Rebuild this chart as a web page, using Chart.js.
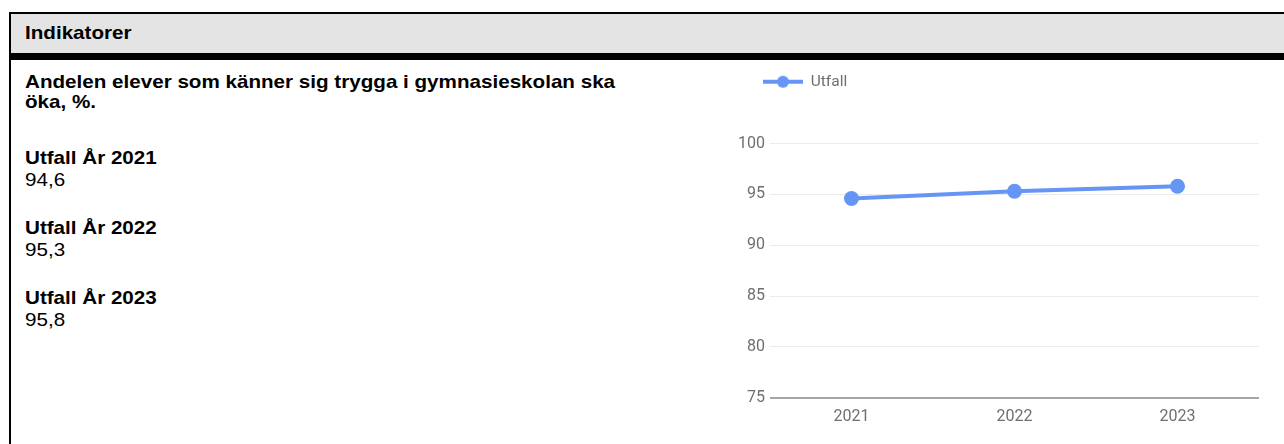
<!DOCTYPE html>
<html>
<head>
<meta charset="utf-8">
<script src="https://cdn.jsdelivr.net/npm/chart.js@4"></script>
<style>
    body { margin: 0; background: #fff; width: 1284px; height: 444px; overflow: hidden; position: relative; font-family: "Liberation Sans", Arial, sans-serif; color: #000; }
    #frame { position: absolute; left: 9px; top: 12px; width: 1290px; height: 440px; border-left: 2px solid #000; border-top: 2px solid #000; }
    #header { position: absolute; left: 0; top: 0; right: 0; height: 39px; background: #e4e4e4; border-bottom: 7px solid #000; }
    .txt { position: absolute; left: 25px; font-size: 19px; transform: scaleX(1.085); transform-origin: left top; white-space: nowrap; }
    .b { font-weight: bold; }
    #chartBox { position: absolute; left: 700px; top: 60px; width: 584px; height: 384px; }
</style>
</head>
<body>
<div id="frame"><div id="header"></div></div>
<div class="txt b" style="top:22px; line-height:22px;">Indikatorer</div>
<div class="txt b" style="top:72px; line-height:20px;">Andelen elever som känner sig trygga i gymnasieskolan ska<br>öka, %.</div>
<div id="values"></div>
<div id="chartBox"><canvas id="chart"></canvas></div>
<script>
const years = ["2021", "2022", "2023"];
const utfall = [94.6, 95.3, 95.8];
const utfallText = ["94,6", "95,3", "95,8"];
const yMin = 75;
const yMax = 100;
const yStep = 5;
const seriesName = "Utfall";
const blue = "#6596f5";
const grey = "#6f6f6f";

// left column: one block per year
const valuesDiv = document.getElementById("values");
years.forEach((year, i) => {
    const top = 147 + i * 70;
    valuesDiv.innerHTML +=
        `<div class="txt" style="top:${top}px; line-height:22px;"><span class="b">${seriesName} År ${year}</span><br>${utfallText[i]}</div>`;
});

// legend marker: line with a dot
const marker = document.createElement("canvas");
marker.width = 40;
marker.height = 16;
const mctx = marker.getContext("2d");
mctx.strokeStyle = blue;
mctx.lineWidth = 4;
mctx.beginPath();
mctx.moveTo(0, 8);
mctx.lineTo(40, 8);
mctx.stroke();
mctx.fillStyle = blue;
mctx.beginPath();
mctx.arc(20, 8, 6, 0, Math.PI * 2);
mctx.fill();

// more room under the legend, and legend moved over the axis
const legendGap = {
    id: "legendGap",
    beforeInit(chart) {
        const origFit = chart.legend.fit;
        chart.legend.fit = function () {
            origFit.bind(chart.legend)();
            this.height += 44;
        };
    },
    afterLayout(chart) {
        chart.legend.left += 53;
    },
};

Chart.defaults.font.family = "Roboto";
Chart.defaults.color = grey;

new Chart(document.getElementById("chart"), {
    type: "line",
    data: {
        labels: years,
        datasets: [
            {
                label: seriesName,
                data: utfall,
                borderColor: blue,
                backgroundColor: blue,
                borderWidth: 4,
                pointRadius: 7.5,
                pointBorderWidth: 0,
                pointBackgroundColor: blue,
                pointStyle: "circle",
                tension: 0,
            },
        ],
    },
    options: {
        responsive: true,
        maintainAspectRatio: false,
        animation: false,
        layout: { padding: { left: 0, right: 25, top: 4, bottom: 7 } },
        plugins: {
            legend: {
                align: "start",
                labels: {
                    usePointStyle: true,
                    pointStyleWidth: 40,
                    font: { size: 15.5 },
                    color: grey,
                    generateLabels(chart) {
                        return [{
                            text: seriesName,
                            pointStyle: marker,
                            fillStyle: blue,
                            strokeStyle: blue,
                            lineWidth: 0,
                            fontColor: grey,
                            datasetIndex: 0,
                        }];
                    },
                },
            },
            tooltip: { enabled: false },
        },
        scales: {
            x: {
                offset: true,
                grid: { display: false, drawTicks: false },
                border: { display: false },
                ticks: { padding: 10, font: { size: 16 }, color: grey },
            },
            y: {
                min: yMin,
                max: yMax,
                afterFit(scale) { scale.width = 70; },
                grid: {
                    drawTicks: false,
                    color: (ctx) => (ctx.tick && ctx.tick.value === yMin ? "#a6a6a6" : "#ebebeb"),
                    lineWidth: (ctx) => (ctx.tick && ctx.tick.value === yMin ? 2 : 1),
                },
                border: { display: false },
                ticks: { stepSize: yStep, padding: 5, font: { size: 16 }, color: grey },
            },
        },
    },
    plugins: [legendGap],
});
</script>
</body>
</html>
